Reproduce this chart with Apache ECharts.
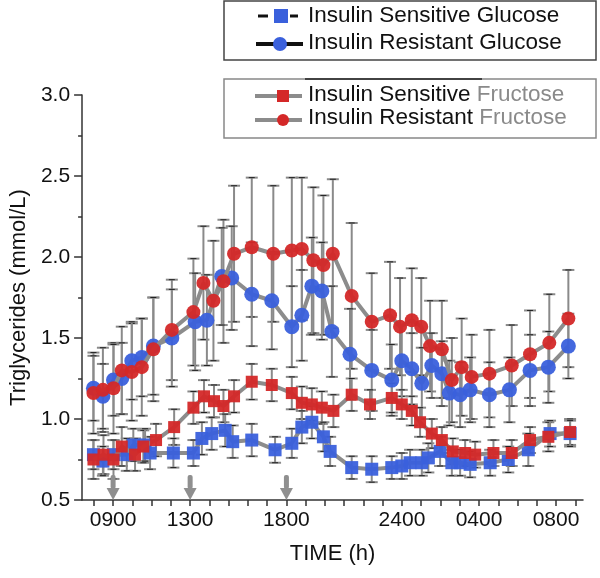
<!DOCTYPE html>
<html><head><meta charset="utf-8">
<script src="https://cdn.jsdelivr.net/npm/echarts@6/dist/echarts.min.js"></script>
<style>html,body{margin:0;padding:0;background:#fff;}#c{width:600px;height:578px;}</style>
</head><body><div id="c"></div>
<script>
// ---- data ----
var tickHours = [9, 13, 18, 24, 28, 32];
var tickLabels = ['0900', '1300', '1800', '2400', '0400', '0800'];
var hourTicks = [8,9,10,11,12,13,14,15,16,17,18,19,20,21,22,23,24,25,26,27,28,29,30,31,32,33];
var yLabels = [0.5, 1.0, 1.5, 2.0, 2.5, 3.0];
var mealTimes = [9, 13, 18];

var tIRF = [7.98, 8.47, 9.02, 9.45, 9.97, 10.49, 11.09, 12.05, 13.17, 13.69, 14.21, 14.73, 15.28, 16.2, 17.32, 18.28, 18.8, 19.4, 19.92, 20.41, 21.39, 22.43, 23.38, 23.9, 24.51, 25.0, 25.46, 26.07, 26.59, 27.1, 27.62, 28.54, 29.7, 30.65, 31.65, 32.64];
var vIRF = [1.16, 1.18, 1.19, 1.30, 1.29, 1.32, 1.43, 1.55, 1.66, 1.84, 1.73, 1.85, 2.02, 2.06, 2.02, 2.04, 2.05, 1.98, 1.95, 2.02, 1.76, 1.60, 1.64, 1.57, 1.61, 1.57, 1.45, 1.43, 1.24, 1.32, 1.26, 1.28, 1.33, 1.40, 1.47, 1.62];
var eIRF = [0.25, 0.26, 0.28, 0.27, 0.30, 0.30, 0.32, 0.31, 0.33, 0.35, 0.37, 0.38, 0.42, 0.43, 0.42, 0.45, 0.44, 0.45, 0.43, 0.46, 0.45, 0.30, 0.33, 0.30, 0.32, 0.30, 0.28, 0.30, 0.26, 0.30, 0.26, 0.27, 0.25, 0.27, 0.30, 0.30];

var tIRG = [7.98, 8.47, 9.02, 9.45, 9.97, 10.49, 11.09, 12.05, 13.26, 13.87, 14.64, 15.16, 16.2, 17.24, 18.28, 18.8, 19.32, 19.84, 20.36, 21.3, 22.43, 23.47, 23.99, 24.51, 25.03, 25.55, 26.07, 26.46, 27.02, 27.54, 28.54, 29.58, 30.65, 31.6, 32.64];
var vIRG = [1.19, 1.14, 1.24, 1.25, 1.36, 1.38, 1.45, 1.50, 1.60, 1.61, 1.88, 1.87, 1.77, 1.73, 1.57, 1.64, 1.82, 1.79, 1.54, 1.40, 1.30, 1.24, 1.36, 1.31, 1.22, 1.33, 1.28, 1.16, 1.15, 1.18, 1.15, 1.18, 1.30, 1.32, 1.45];
var eIRG = [0.20, 0.20, 0.22, 0.22, 0.24, 0.24, 0.30, 0.30, 0.30, 0.28, 0.30, 0.32, 0.32, 0.30, 0.25, 0.28, 0.30, 0.30, 0.28, 0.28, 0.25, 0.22, 0.22, 0.22, 0.22, 0.20, 0.20, 0.20, 0.20, 0.20, 0.20, 0.20, 0.22, 0.22, 0.20];

var tISF = [7.98, 8.5, 9.02, 9.45, 10.14, 10.57, 11.23, 12.17, 13.17, 13.72, 14.24, 14.73, 15.28, 16.2, 17.24, 18.28, 18.8, 19.32, 19.84, 20.44, 21.39, 22.34, 23.47, 23.99, 24.51, 24.94, 25.55, 26.07, 26.64, 27.28, 27.8, 28.75, 29.7, 30.65, 31.6, 32.73];
var vISF = [0.75, 0.78, 0.75, 0.83, 0.78, 0.83, 0.87, 0.95, 1.07, 1.14, 1.11, 1.08, 1.14, 1.23, 1.21, 1.16, 1.10, 1.09, 1.07, 1.05, 1.15, 1.09, 1.13, 1.09, 1.05, 0.98, 0.91, 0.87, 0.80, 0.79, 0.78, 0.79, 0.79, 0.87, 0.89, 0.92];
var eISF = [0.12, 0.12, 0.12, 0.12, 0.10, 0.10, 0.10, 0.11, 0.10, 0.10, 0.10, 0.10, 0.10, 0.11, 0.10, 0.10, 0.10, 0.10, 0.10, 0.10, 0.10, 0.09, 0.09, 0.09, 0.09, 0.09, 0.09, 0.08, 0.08, 0.08, 0.08, 0.08, 0.08, 0.08, 0.09, 0.08];

var tISG = [7.98, 8.47, 9.02, 9.71, 10.05, 10.66, 10.92, 12.13, 13.17, 13.61, 14.12, 14.82, 15.21, 16.2, 17.41, 18.28, 18.8, 19.32, 19.92, 20.27, 21.39, 22.43, 23.47, 23.99, 24.42, 25.03, 25.37, 25.98, 26.59, 27.02, 27.54, 28.58, 29.52, 30.56, 31.69, 32.73];
var vISG = [0.78, 0.74, 0.78, 0.78, 0.84, 0.84, 0.79, 0.79, 0.79, 0.88, 0.91, 0.93, 0.86, 0.87, 0.81, 0.85, 0.95, 0.98, 0.89, 0.80, 0.70, 0.69, 0.70, 0.71, 0.73, 0.73, 0.76, 0.80, 0.73, 0.73, 0.72, 0.73, 0.75, 0.81, 0.91, 0.91];
var eISG = [0.09, 0.09, 0.09, 0.10, 0.10, 0.10, 0.10, 0.09, 0.08, 0.10, 0.10, 0.10, 0.10, 0.10, 0.08, 0.09, 0.10, 0.10, 0.09, 0.09, 0.07, 0.08, 0.07, 0.08, 0.08, 0.08, 0.09, 0.09, 0.08, 0.08, 0.08, 0.08, 0.08, 0.10, 0.08, 0.08];

// ---- build ----
var BLUE = '#3a60dc', RED = '#d42828', LINE = '#8c8c8c', ERR = '#8a8a8a';
var FONT = '"Liberation Sans", Arial, sans-serif';

function pts(t, v) { return t.map(function (x, i) { return [x, v[i]]; }); }
function errs(t, v, e) { return t.map(function (x, i) { return [x, v[i] - e[i], v[i] + e[i]]; }); }

function errRender(params, api) {
  var x = api.value(0);
  var p1 = api.coord([x, api.value(2)]), p2 = api.coord([x, api.value(1)]);
  var w = 6;
  var st = { stroke: ERR, lineWidth: 2 };
  var st2 = { stroke: '#222', lineWidth: 1 };
  return { type: 'group', children: [
    { type: 'line', shape: { x1: p1[0], y1: p1[1], x2: p2[0], y2: p2[1] }, style: st },
    { type: 'line', shape: { x1: p1[0] - w, y1: p1[1], x2: p1[0] + w, y2: p1[1] }, style: st },
    { type: 'line', shape: { x1: p2[0] - w, y1: p2[1], x2: p2[0] + w, y2: p2[1] }, style: st },
    { type: 'line', shape: { x1: p1[0] - 3, y1: p1[1], x2: p1[0] + 3, y2: p1[1] }, style: st2 },
    { type: 'line', shape: { x1: p2[0] - 3, y1: p2[1], x2: p2[0] + 3, y2: p2[1] }, style: st2 }
  ]};
}

function arrowRender(params, api) {
  var x = api.value(0);
  var top = api.coord([x, api.value(1)]);
  var tip = api.coord([x, api.value(2)]);
  var hh = 12, hw = 6.5, sw = 2.5;
  return { type: 'group', children: [
    { type: 'rect', shape: { x: top[0] - sw, y: top[1], width: sw * 2, height: tip[1] - hh - top[1] + 1, r: 2 }, style: { fill: '#8f8f8f' } },
    { type: 'polygon', shape: { points: [[tip[0] - hw, tip[1] - hh], [tip[0] + hw, tip[1] - hh], [tip[0], tip[1]]] }, style: { fill: '#8f8f8f' } }
  ]};
}

function errSeries(data) {
  return { type: 'custom', renderItem: errRender, data: data, z: 1, silent: true, clip: false,
    encode: { x: 0, y: [1, 2] } };
}
function lineSeries(name, data, symbol, size, color, z) {
  return { name: name, type: 'line', data: data, symbol: symbol, symbolSize: size, z: z,
    lineStyle: { color: LINE, width: 4 }, itemStyle: { color: color, opacity: 0.95 },
    showSymbol: true, animation: false };
}

var arrowData = mealTimes.map(function (t) { return [t, 0.655, 0.5]; });

var option = {
  animation: false,
  backgroundColor: '#ffffff',
  grid: { left: 82, right: 17, top: 95, bottom: 78 },
  xAxis: {
    type: 'value', min: 7.39, max: 33.4,
    name: 'TIME (h)', nameLocation: 'middle', nameGap: 43,
    nameTextStyle: { fontFamily: FONT, fontSize: 22, color: '#111' },
    axisLine: { lineStyle: { color: '#333', width: 1.5 } },
    axisTick: { show: true, customValues: hourTicks, length: 6, lineStyle: { color: '#333', width: 1.5 } },
    axisLabel: { customValues: tickHours, margin: 10, fontFamily: FONT, fontSize: 21, color: '#111',
      formatter: function (v) { var i = tickHours.indexOf(v); return i >= 0 ? tickLabels[i] : ''; } },
    splitLine: { show: false }
  },
  yAxis: {
    type: 'value', min: 0.5, max: 3.0, interval: 0.5,
    name: 'Triglycerides (mmol/L)', nameLocation: 'middle', nameGap: 51,
    nameTextStyle: { fontFamily: FONT, fontSize: 22, color: '#111' },
    axisLine: { show: true, lineStyle: { color: '#333', width: 1.5 } },
    axisTick: { show: true, length: 8, lineStyle: { color: '#333', width: 1.5 } },
    minorTick: { show: true, splitNumber: 2, length: 4, lineStyle: { color: '#333', width: 1.5 } },
    axisLabel: { margin: 12, fontFamily: FONT, fontSize: 21, color: '#111',
      formatter: function (v) { return v.toFixed(1); } },
    splitLine: { show: false }
  },
  series: [
    errSeries(errs(tIRF, vIRF, eIRF)),
    errSeries(errs(tIRG, vIRG, eIRG)),
    errSeries(errs(tISF, vISF, eISF)),
    errSeries(errs(tISG, vISG, eISG)),
    lineSeries('Insulin Resistant Glucose', pts(tIRG, vIRG), 'circle', 15, BLUE, 3),
    lineSeries('Insulin Resistant Fructose', pts(tIRF, vIRF), 'circle', 14, RED, 4),
    lineSeries('Insulin Sensitive Glucose', pts(tISG, vISG), 'rect', 13, BLUE, 3),
    lineSeries('Insulin Sensitive Fructose', pts(tISF, vISF), 'rect', 12, RED, 4),
    { type: 'custom', renderItem: arrowRender, data: arrowData, z: 5, silent: true, clip: false,
      encode: { x: 0, y: [1, 2] } }
  ],
  graphic: [
    { type: 'rect', shape: { x: 224, y: 1, width: 372, height: 59 }, style: { fill: '#fff', stroke: '#444', lineWidth: 1.5 }, z: 10 },
    { type: 'line', shape: { x1: 258, y1: 16, x2: 268, y2: 16 }, style: { stroke: '#111', lineWidth: 3 }, z: 11 },
    { type: 'line', shape: { x1: 290, y1: 16, x2: 298, y2: 16 }, style: { stroke: '#111', lineWidth: 3 }, z: 11 },
    { type: 'rect', shape: { x: 274, y: 9, width: 14, height: 14 }, style: { fill: BLUE }, z: 12 },
    { type: 'text', x: 308, y: 16, style: { text: 'Insulin Sensitive Glucose', fontFamily: FONT, fontSize: 22.5, fill: '#111', verticalAlign: 'middle' }, z: 12 },
    { type: 'line', shape: { x1: 256, y1: 44, x2: 303, y2: 44 }, style: { stroke: '#111', lineWidth: 4 }, z: 11 },
    { type: 'circle', shape: { cx: 280, cy: 44, r: 7 }, style: { fill: BLUE }, z: 12 },
    { type: 'text', x: 308, y: 43, style: { text: 'Insulin Resistant Glucose', fontFamily: FONT, fontSize: 22.5, fill: '#111', verticalAlign: 'middle' }, z: 12 },

    { type: 'rect', shape: { x: 224, y: 79, width: 372, height: 59 }, style: { fill: '#fff', stroke: '#888', lineWidth: 1.5 }, z: 10 },
    { type: 'line', shape: { x1: 305, y1: 79, x2: 482, y2: 79 }, style: { stroke: '#222', lineWidth: 1.5 }, z: 11 },
    { type: 'line', shape: { x1: 255, y1: 96, x2: 302, y2: 96 }, style: { stroke: '#8c8c8c', lineWidth: 4 }, z: 11 },
    { type: 'rect', shape: { x: 277, y: 90, width: 12, height: 12 }, style: { fill: RED }, z: 12 },
    { type: 'text', x: 308, y: 95, style: { text: '{a|Insulin Sensitive }{b|Fructose}', fontFamily: FONT, fontSize: 22.5, verticalAlign: 'middle',
      rich: { a: { fill: '#111', fontFamily: FONT, fontSize: 22.5 }, b: { fill: '#8a8a8a', fontFamily: FONT, fontSize: 22.5 } } }, z: 12 },
    { type: 'line', shape: { x1: 255, y1: 120, x2: 302, y2: 120 }, style: { stroke: '#8c8c8c', lineWidth: 4 }, z: 11 },
    { type: 'circle', shape: { cx: 283, cy: 120, r: 6 }, style: { fill: RED }, z: 12 },
    { type: 'text', x: 308, y: 118, style: { text: '{a|Insulin Resistant }{b|Fructose}', fontFamily: FONT, fontSize: 22.5, verticalAlign: 'middle',
      rich: { a: { fill: '#111', fontFamily: FONT, fontSize: 22.5 }, b: { fill: '#8a8a8a', fontFamily: FONT, fontSize: 22.5 } } }, z: 12 }
  ]
};

var chart = echarts.init(document.getElementById('c'), null, { renderer: 'canvas' });
chart.setOption(option);
</script>
</body></html>
